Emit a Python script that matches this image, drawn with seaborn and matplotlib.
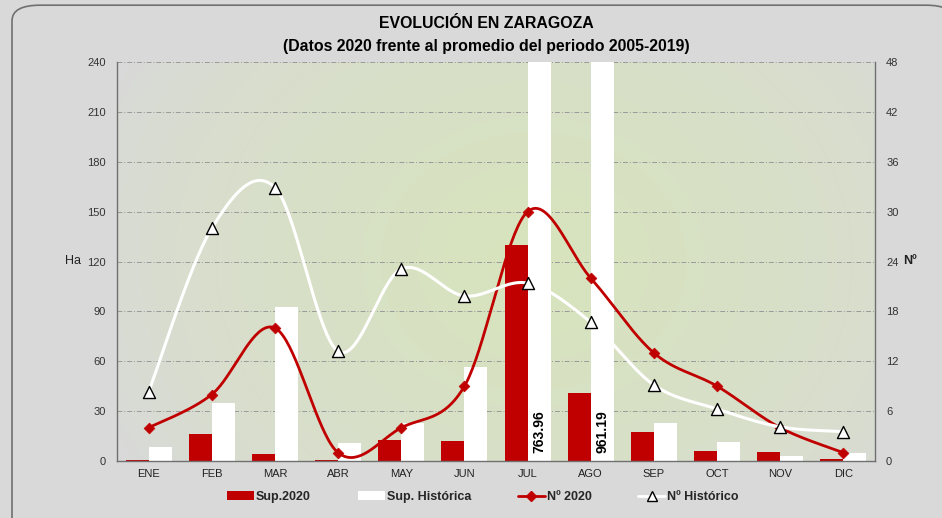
import numpy as np
import pandas as pd
import matplotlib
matplotlib.use('Agg')
import matplotlib.pyplot as plt
from matplotlib.patches import Patch, FancyBboxPatch
from matplotlib.lines import Line2D
import seaborn as sns

meses = ['ENE', 'FEB', 'MAR', 'ABR', 'MAY', 'JUN', 'JUL', 'AGO', 'SEP', 'OCT', 'NOV', 'DIC']
sup_2020 = [0.5, 16, 4.2, 0.5, 12.8, 11.8, 129.7, 41, 17.4, 6, 5.6, 1]
sup_historica = [8.6, 35, 92.8, 11, 23, 56.7, 763.96, 961.19, 23, 11.4, 3, 4.8]
num_2020 = [4, 8, 16, 1, 4, 9, 30, 22, 13, 9, 4, 1]
num_historico = [8.3, 28, 32.9, 13.2, 23.1, 19.85, 21.4, 16.7, 9.14, 6.26, 4.1, 3.53]

ROJO = '#c00000'
FONDO = '#d9d9d9'

sns.set_theme(style='white')
plt.rcParams['font.family'] = ['Liberation Sans', 'DejaVu Sans']


# Excel-like smoothed line (Catmull-Rom as cubic bezier)
def suavizar(x, y, n=40):
    p = np.column_stack([x, y]).astype(float)
    p = np.vstack([p[0], p, p[-1]])
    out = []
    for i in range(1, len(p) - 2):
        p0, p1, p2, p3 = p[i - 1], p[i], p[i + 1], p[i + 2]
        c1 = p1 + (p2 - p0) / 6
        c2 = p2 - (p3 - p1) / 6
        t = np.linspace(0, 1, n)[:, None]
        seg = ((1 - t) ** 3) * p1 + 3 * ((1 - t) ** 2) * t * c1 + 3 * (1 - t) * t ** 2 * c2 + t ** 3 * p2
        out.append(seg if i == 1 else seg[1:])
    out = np.vstack(out)
    return out[:, 0], out[:, 1]


fig = plt.figure(figsize=(9.42, 5.18), dpi=100)
fig.patch.set_facecolor(FONDO)
marco = FancyBboxPatch((12 / 942, -0.05), 1.0, 1.04, boxstyle='round,pad=0,rounding_size=0.03',
                       transform=fig.transFigure, facecolor=FONDO, edgecolor='#707070', lw=1.2,
                       zorder=-10)
fig.patches.append(marco)

ax = fig.add_axes([117 / 942, 1 - 461 / 518, (875 - 117) / 942, (461 - 62) / 518])

# radial gradient background
gx, gy = np.meshgrid(np.linspace(0, 1, 300), np.linspace(0, 1, 200))
r = np.sqrt(((gx - 0.55) / 0.62) ** 2 + ((gy - 0.5) / 1.0) ** 2)
w = np.clip(1 - r, 0, 1) ** 0.7
w = w[..., None]
c_borde = np.array([217, 217, 217]) / 255
c_centro = np.array([215, 228, 188]) / 255
img = c_borde * (1 - w) + c_centro * w
ax.imshow(img, extent=[-0.5, 11.5, 0, 240], aspect='auto', origin='lower', zorder=0)

df = pd.DataFrame({
    'mes': meses * 2,
    'valor': sup_2020 + sup_historica,
    'serie': ['Sup.2020'] * 12 + ['Sup. Histórica'] * 12,
})
sns.barplot(data=df, x='mes', y='valor', hue='serie', palette=[ROJO, 'white'],
            width=0.73, saturation=1, ax=ax, legend=False, zorder=2)
for b in ax.patches:
    b.set_edgecolor('none')

ax.set_xlim(-0.5, 11.5)
ax.set_ylim(0, 240)
ax.set_yticks(np.arange(0, 241, 30))
ax.grid(axis='y', color='#999999', linestyle=(0, (5, 2, 1, 2)), lw=0.7, zorder=1)
ax.grid(axis='x', visible=False)
ax.set_axisbelow(True)
ax.set_xlabel('')
ax.set_ylabel('Ha', rotation=0, fontsize=9, color='#222222', va='center')
ax.yaxis.set_label_coords(-0.058, 0.5)

# labels for clipped bars
for i, v in enumerate(sup_historica):
    if v > 240:
        ax.text(i + 0.18, 5, f'{v:.2f}', rotation=90, ha='center', va='bottom',
                fontsize=10, fontweight='bold', color='black', zorder=5)

ax2 = ax.twinx()
ax2.set_ylim(0, 48)
ax2.set_yticks(np.arange(0, 49, 6))
x = np.arange(len(meses))
sx, sy = suavizar(x, num_2020)
ax2.plot(sx, sy, color=ROJO, lw=2.0, zorder=3)
sns.scatterplot(x=x, y=num_2020, marker='D', s=30, color=ROJO, edgecolor=ROJO,
                linewidth=0.5, ax=ax2, zorder=4)
sx, sy = suavizar(x, num_historico)
ax2.plot(sx, sy, color='white', lw=2.2, zorder=5)
sns.scatterplot(x=x, y=num_historico, marker='^', s=75, color='white', edgecolor='black',
                linewidth=1.0, ax=ax2, zorder=6)
ax2.set_ylabel('Nº', rotation=0, fontsize=9, fontweight='bold', color='#222222', va='center')
ax2.yaxis.set_label_coords(1.046, 0.5)
ax2.grid(False)

for a in (ax, ax2):
    for s in a.spines.values():
        s.set_visible(False)
    a.tick_params(axis='y', labelsize=8, colors='#333333', length=0, pad=8)
    a.tick_params(axis='x', labelsize=8, colors='#222222', length=0, pad=6)
ax.spines['left'].set_visible(True)
ax.spines['bottom'].set_visible(True)
ax2.spines['right'].set_visible(True)
for s in (ax.spines['left'], ax.spines['bottom'], ax2.spines['right']):
    s.set_color('#707070')
    s.set_linewidth(1.0)

fig.text(486 / 942, 1 - 24 / 518, 'EVOLUCIÓN EN ZARAGOZA', ha='center', va='center',
         fontsize=11.4, fontweight='bold', color='black')
fig.text(486 / 942, 1 - 46 / 518, '(Datos 2020 frente al promedio del periodo 2005-2019)',
         ha='center', va='center', fontsize=11.4, fontweight='bold', color='black')

handles = [
    Patch(facecolor=ROJO, edgecolor='none', label='Sup.2020'),
    Patch(facecolor='white', edgecolor='none', label='Sup. Histórica'),
    Line2D([], [], color=ROJO, lw=2, marker='D', markersize=5, label='Nº 2020'),
    Line2D([], [], color='white', lw=2, marker='^', markersize=7, markerfacecolor='white',
           markeredgecolor='black', label='Nº Histórico'),
]
fig.legend(handles=handles, loc='center', bbox_to_anchor=(483 / 942, 1 - 497 / 518), ncol=4,
           frameon=False, prop={'weight': 'bold', 'size': 9}, handlelength=2.15,
           handletextpad=0.15, columnspacing=3.75, handleheight=0.7)

fig.savefig('out.png', dpi=100, facecolor=FONDO)
